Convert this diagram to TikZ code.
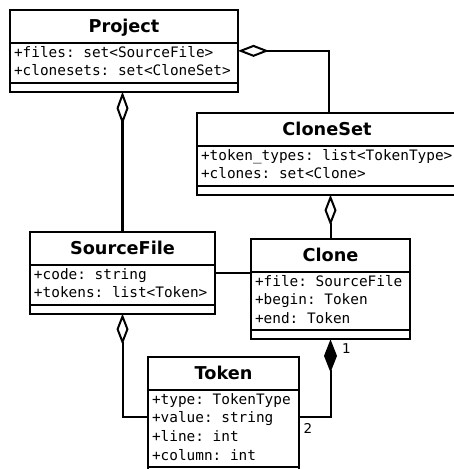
\documentclass[tikz,border=0pt]{standalone}
\usepackage{fontspec}
\setmainfont{DejaVu Sans}
\setmonofont{DejaVu Sans Mono}
\usetikzlibrary{arrows.meta,positioning,shapes.multipart}
\newcommand{\titlefont}{\fontsize{17.7}{21}\selectfont\bfseries\rmfamily}
\newcommand{\attrfont}{\fontsize{14.4}{18.7}\selectfont\ttfamily}
% struts that fix the compartment heights
\newcommand{\ctitle}[1]{{\titlefont\rule[-10pt]{0pt}{31pt}#1}}
\newcommand{\cfirst}{\rule{0pt}{13pt}}
\newcommand{\clast}{\rule[-6pt]{0pt}{6pt}}
\newcommand{\cops}{\nodepart{three}\rule{0pt}{7pt}}
\tikzset{
  uml/.style={
    x=1pt, y=-1pt,
    line width=2pt,
    every node/.style={font=\attrfont}
  },
  umlclass/.style={                % class box: name, attributes, operations
    rectangle split, rectangle split parts=3,
    rectangle split part align={center,left,left},
    draw, line width=2pt, fill=white,
    align=left,
    inner xsep=4pt, inner ysep=0pt, outer sep=0pt,
    anchor=north west
  },
  assoc/.style={line width=2pt},
  aggr/.style={{Diamond[open,length=31pt 0,width=12pt 0]}-, line width=2pt},
  aggrthick/.style={{Diamond[open,length=33pt 0,width=12pt 0,line width=2pt]}-, line width=3.5pt},
  compo/.style={{Diamond[length=33pt 0,width=13pt 0]}-, line width=2pt},
  mult/.style={font=\fontsize{13.5}{16}\selectfont\rmfamily, inner sep=0pt}
}
\begin{document}
\begin{tikzpicture}[uml]
\useasboundingbox (0,0) rectangle (454,469);

% classes
\node[umlclass, minimum width=228pt] (Project) at (10,10)
  {\ctitle{Project}\nodepart{two}\cfirst+files: set<SourceFile>\\+clonesets: set<CloneSet>\clast\cops};
\node[umlclass, minimum width=260pt] (CloneSet) at (197,113)
  {\ctitle{CloneSet}\nodepart{two}\cfirst+token\_types: list<TokenType>\\+clones: set<Clone>\clast\cops};
\node[umlclass, minimum width=185pt] (SourceFile) at (30,232)
  {\ctitle{SourceFile}\nodepart{two}\cfirst+code: string\\+tokens: list<Token>\clast\cops};
\node[umlclass, minimum width=159pt] (Clone) at (251,239)
  {\ctitle{Clone}\nodepart{two}\cfirst+file: SourceFile\\+begin: Token\\+end: Token\clast\cops};
\node[umlclass, minimum width=151pt] (Token) at (148,357)
  {\ctitle{Token}\nodepart{two}\cfirst+type: TokenType\\+value: string\\+line: int\\+column: int\clast\cops};

% associations
\draw[aggr] (Project.east) -| (CloneSet.north -| 329,0);
\draw[aggrthick] (SourceFile.north |- Project.south) -- (SourceFile.north);
\draw[aggr] (Clone.north |- CloneSet.south) -- (Clone.north);
\draw[assoc] (SourceFile.east) -- (SourceFile.east -| Clone.west);
\draw[aggr] (SourceFile.south) |- (Token.west);
\draw[compo] (Clone.south) |- (Token.east);

% multiplicities
\node[mult] (m1) at ([xshift=16pt,yshift=-9pt]Clone.south) {1};
\node[mult] (m2) at ([xshift=9pt,yshift=-11.5pt]Token.east) {2};

\end{tikzpicture}
\end{document}
